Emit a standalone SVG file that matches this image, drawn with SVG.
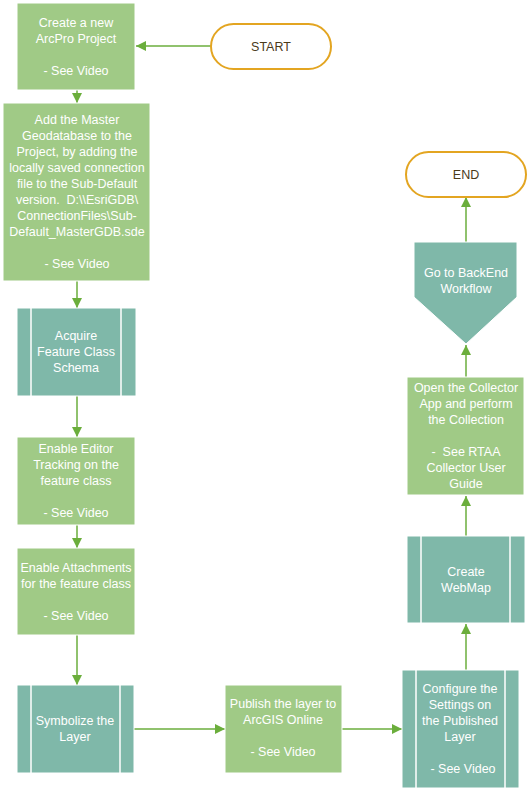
<svg xmlns="http://www.w3.org/2000/svg" width="528" height="791" viewBox="0 0 528 791">
<defs>
<style>
.proc{fill:#A0CA86;stroke:#ffffff;stroke-width:1}
.sub{fill:#7FB8A9;stroke:#ffffff;stroke-width:1}
.bar{fill:none;stroke:#ffffff;stroke-width:1.5}
.term{fill:#ffffff;stroke:#E3A521;stroke-width:2}
.t{font-family:"Liberation Sans",Arial,sans-serif;font-size:12.5px;fill:#ffffff;text-anchor:middle;white-space:pre}
.tt{font-family:"Liberation Sans",Arial,sans-serif;font-size:12.5px;fill:#4A3A1A;text-anchor:middle}
.c{fill:none;stroke:#6BAE3C;stroke-width:1.5}
</style>
<marker id="ah" viewBox="0 0 10 10" refX="10" refY="5" markerWidth="10" markerHeight="10" markerUnits="userSpaceOnUse" orient="auto">
<path d="M0,0 L10,5 L0,10 Z" fill="#6BAE3C"/>
</marker>
</defs>
<rect width="528" height="791" fill="#ffffff"/>
<g id="connectors">
<line class="c" x1="211" y1="46" x2="136" y2="46" marker-end="url(#ah)"/>
<line class="c" x1="77" y1="90" x2="77" y2="103" marker-end="url(#ah)"/>
<line class="c" x1="77" y1="281" x2="77" y2="308" marker-end="url(#ah)"/>
<line class="c" x1="77" y1="396" x2="77" y2="437" marker-end="url(#ah)"/>
<line class="c" x1="77" y1="525" x2="77" y2="548" marker-end="url(#ah)"/>
<line class="c" x1="77" y1="635" x2="77" y2="685" marker-end="url(#ah)"/>
<line class="c" x1="134" y1="729" x2="225" y2="729" marker-end="url(#ah)"/>
<line class="c" x1="342" y1="729" x2="402" y2="729" marker-end="url(#ah)"/>
<line class="c" x1="466" y1="670" x2="466" y2="624" marker-end="url(#ah)"/>
<line class="c" x1="466" y1="536" x2="466" y2="496" marker-end="url(#ah)"/>
<line class="c" x1="466" y1="377" x2="466" y2="345" marker-end="url(#ah)"/>
<line class="c" x1="466" y1="242" x2="466" y2="197" marker-end="url(#ah)"/>
</g>
<g id="start">
<rect class="term" x="211" y="24" width="120" height="45" rx="22.5"/>
<text class="tt" x="271" y="51">START</text>
</g>
<g id="end">
<rect class="term" x="406" y="152" width="120" height="45" rx="22.5"/>
<text class="tt" x="466" y="179">END</text>
</g>
<g id="n1">
<rect class="proc" x="17" y="3" width="118" height="87"/>
<text class="t" x="76" y="27">Create a new</text>
<text class="t" x="76" y="43">ArcPro Project</text>
<text class="t" x="76" y="75">- See Video</text>
</g>
<g id="n2">
<rect class="proc" x="3" y="103" width="147" height="178"/>
<text class="t" x="77" y="124">Add the Master</text>
<text class="t" x="77" y="140">Geodatabase to the</text>
<text class="t" x="77" y="156">Project, by adding the</text>
<text class="t" x="77" y="172">locally saved connection</text>
<text class="t" x="77" y="188">file to the Sub-Default</text>
<text class="t" x="77" y="204">version.  D:\\EsriGDB\</text>
<text class="t" x="77" y="220">ConnectionFiles\Sub-</text>
<text class="t" x="77" y="236">Default_MasterGDB.sde</text>
<text class="t" x="77" y="268">- See Video</text>
</g>
<g id="n3">
<rect class="sub" x="17" y="308" width="119" height="88"/>
<line class="bar" x1="31" y1="308" x2="31" y2="396"/>
<line class="bar" x1="121" y1="308" x2="121" y2="396"/>
<text class="t" x="76" y="340">Acquire</text>
<text class="t" x="76" y="356">Feature Class</text>
<text class="t" x="76" y="372">Schema</text>
</g>
<g id="n4">
<rect class="proc" x="17" y="437" width="118" height="88"/>
<text class="t" x="76" y="453">Enable Editor</text>
<text class="t" x="76" y="469">Tracking on the</text>
<text class="t" x="76" y="485">feature class</text>
<text class="t" x="76" y="517">- See Video</text>
</g>
<g id="n5">
<rect class="proc" x="17" y="548" width="118" height="87"/>
<text class="t" x="76" y="572">Enable Attachments</text>
<text class="t" x="76" y="588">for the feature class</text>
<text class="t" x="76" y="620">- See Video</text>
</g>
<g id="n6">
<rect class="sub" x="17" y="685" width="117" height="88"/>
<line class="bar" x1="31" y1="685" x2="31" y2="773"/>
<line class="bar" x1="120" y1="685" x2="120" y2="773"/>
<text class="t" x="75" y="725">Symbolize the</text>
<text class="t" x="75" y="741">Layer</text>
</g>
<g id="n7">
<rect class="proc" x="225" y="685" width="117" height="88"/>
<text class="t" x="283" y="708">Publish the layer to</text>
<text class="t" x="283" y="724">ArcGIS Online</text>
<text class="t" x="283" y="756">- See Video</text>
</g>
<g id="n8">
<rect class="sub" x="402" y="670" width="117" height="118"/>
<line class="bar" x1="416" y1="670" x2="416" y2="788"/>
<line class="bar" x1="505" y1="670" x2="505" y2="788"/>
<text class="t" x="460" y="693">Configure the</text>
<text class="t" x="460" y="709">Settings on</text>
<text class="t" x="460" y="725">the Published</text>
<text class="t" x="460" y="741">Layer</text>
<text class="t" x="463" y="773">- See Video</text>
</g>
<g id="n9">
<rect class="sub" x="407" y="536" width="118" height="87"/>
<line class="bar" x1="421" y1="536" x2="421" y2="623"/>
<line class="bar" x1="510" y1="536" x2="510" y2="623"/>
<text class="t" x="466" y="576">Create</text>
<text class="t" x="466" y="592">WebMap</text>
</g>
<g id="n10">
<rect class="proc" x="407" y="377" width="117" height="118"/>
<text class="t" x="466" y="392">Open the Collector</text>
<text class="t" x="466" y="408">App and perform</text>
<text class="t" x="466" y="424">the Collection</text>
<text class="t" x="466" y="456">-  See RTAA</text>
<text class="t" x="466" y="472">Collector User</text>
<text class="t" x="466" y="488">Guide</text>
</g>
<g id="n11">
<polygon class="sub" points="414,242 517,242 517,297 466,344 414,297"/>
<text class="t" x="466" y="277">Go to BackEnd</text>
<text class="t" x="466" y="293">Workflow</text>
</g>
</svg>
